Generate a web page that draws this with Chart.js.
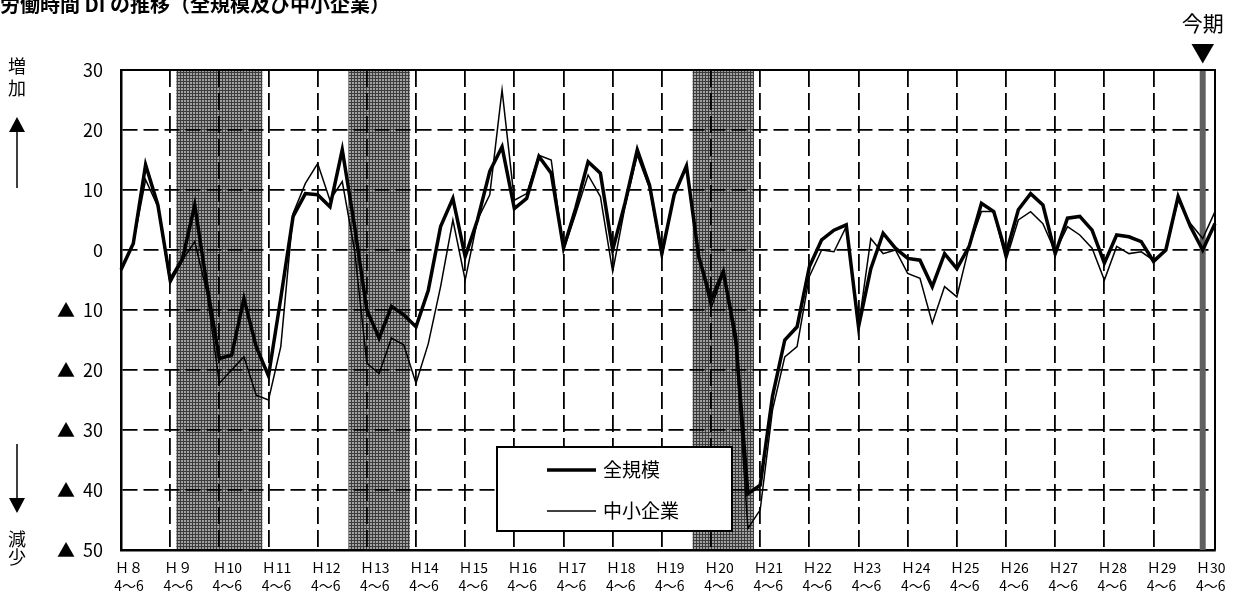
<!DOCTYPE html>
<html>
<head>
<meta charset="utf-8">
<script src="https://cdn.jsdelivr.net/npm/chart.js@4.4.1/dist/chart.umd.min.js"></script>
<style>
  html, body { margin: 0; padding: 0; background: #fff; }
  #wrap { width: 1235px; height: 597px; }
</style>
</head>
<body>
<div id="wrap"><canvas id="diChart"></canvas></div>
<script>
// 年（元号）と四半期のラベル
const yearLabels = ['Ｈ８', 'Ｈ９', 'Ｈ10', 'Ｈ11', 'Ｈ12', 'Ｈ13', 'Ｈ14', 'Ｈ15', 'Ｈ16', 'Ｈ17', 'Ｈ18', 'Ｈ19',
  'Ｈ20', 'Ｈ21', 'Ｈ22', 'Ｈ23', 'Ｈ24', 'Ｈ25', 'Ｈ26', 'Ｈ27', 'Ｈ28', 'Ｈ29', 'Ｈ30'];
const quarterLabels = ['4～6', '7～9', '10～12', '1～3'];

// 全規模（H8 4～6 から H30 7～9 まで）
const allSizes = [
  -3.3, 1.1, 14.2, 7.5, -5.0, -1.5, 7.5, -6.0, -18.1, -17.5, -8.1, -16.1,
  -21.0, -8.0, 5.6, 9.4, 9.2, 7.2, 16.7, 4.0, -10.0, -14.7, -9.4, -10.8,
  -12.8, -6.7, 3.9, 8.6, -1.1, 5.0, 13.1, 17.2, 6.9, 8.6, 15.6, 12.8,
  0.3, 7.0, 14.7, 12.8, 0.0, 7.8, 16.7, 10.8, -0.6, 9.2, 14.0, -1.1,
  -8.3, -3.6, -14.4, -40.6, -39.2, -24.4, -15.0, -12.8, -2.8, 1.7, 3.3, 4.2,
  -12.8, -3.1, 2.8, 0.3, -1.4, -1.7, -6.1, -0.6, -3.1, 0.6, 7.8, 6.4,
  -0.6, 6.7, 9.4, 7.5, -0.6, 5.3, 5.6, 3.3, -2.2, 2.5, 2.2, 1.4,
  -1.9, 0.0, 8.9, 3.9, 0.0, 4.4
];

// 中小企業
const smallFirms = [
  -3.3, 1.1, 11.7, 7.2, -5.6, -1.7, 1.4, -7.2, -22.2, -20.0, -17.8, -24.2,
  -25.0, -16.1, 6.1, 11.1, 14.4, 8.3, 11.4, 0.0, -18.9, -20.6, -14.7, -15.8,
  -22.2, -15.6, -6.1, 5.0, -5.0, 5.0, 9.2, 26.7, 8.3, 9.4, 15.8, 15.0,
  0.0, 6.1, 12.5, 8.9, -3.6, 7.2, 15.8, 10.3, -1.1, 9.4, 13.9, -1.1,
  -9.7, -3.9, -16.0, -46.4, -43.3, -26.7, -17.8, -16.1, -4.4, 0.0, -0.3, 3.9,
  -12.8, 1.9, -0.6, 0.0, -3.9, -4.7, -12.2, -6.1, -7.8, 0.6, 6.4, 6.4,
  -1.7, 5.0, 6.4, 4.4, -0.3, 3.9, 2.5, 0.3, -5.0, 0.6, -0.6, -0.3,
  -1.7, 0.0, 8.3, 4.4, 1.9, 6.4
];

// 景気後退期（網掛け）の開始・終了の期、今期
const shadeFrom = [5, 19, 47];
const shadeTo = [11, 23, 51];
const currentIndex = 88;

// カテゴリ: 各四半期
const categories = [];
for (let i = 0; i < allSizes.length; i++) {
  const q = i % 4;
  const y = Math.floor(i / 4) + (q === 3 ? 1 : 0);
  categories.push(yearLabels[y] + ' ' + quarterLabels[q]);
}

function makePattern(ctx) {
  const c = document.createElement('canvas');
  c.width = 3; c.height = 3;
  const p = c.getContext('2d');
  p.fillStyle = '#a2a2a2';
  p.fillRect(0, 0, 3, 3);
  p.fillStyle = '#3c3c3c';
  p.fillRect(0, 0, 3, 1);
  p.fillRect(0, 0, 1, 3);
  return ctx.createPattern(c, 'repeat');
}

const decor = {
  id: 'decor',
  beforeDraw(chart) {
    const { ctx, chartArea: a, scales: { x } } = chart;
    ctx.save();
    ctx.fillStyle = makePattern(ctx);
    shadeFrom.forEach((f, k) => {
      const x1 = x.getPixelForValue(f - 0.5);
      const x2 = x.getPixelForValue(shadeTo[k] + 0.5);
      ctx.fillRect(x1, a.top, x2 - x1, a.bottom - a.top);
    });
    ctx.restore();
  },
  beforeDatasetsDraw(chart) {
    const { ctx, chartArea: a, scales: { x } } = chart;
    const cx = x.getPixelForValue(currentIndex);
    ctx.save();
    ctx.fillStyle = '#606060';
    ctx.fillRect(cx - 3, a.top, 6, a.bottom - a.top);
    ctx.restore();
  },
  afterDatasetsDraw(chart) {
    const { ctx, chartArea: a } = chart;
    ctx.save();
    // 枠（上・右）
    ctx.strokeStyle = '#000';
    ctx.lineWidth = 2;
    ctx.beginPath();
    ctx.moveTo(a.left, a.top);
    ctx.lineTo(a.right, a.top);
    ctx.lineTo(a.right, a.bottom);
    ctx.stroke();

    // 凡例
    const lx = 497, ly = 447, lw = 235, lh = 84;
    ctx.fillStyle = '#fff';
    ctx.fillRect(lx, ly, lw, lh);
    ctx.lineWidth = 2;
    ctx.strokeRect(lx, ly, lw, lh);
    ctx.font = '19px "Noto Sans CJK JP"';
    ctx.textBaseline = 'middle';
    ctx.fillStyle = '#000';
    chart.data.datasets.forEach((ds, k) => {
      const yy = ly + 23 + k * 41;
      ctx.lineWidth = ds.borderWidth;
      ctx.beginPath();
      ctx.moveTo(lx + 50, yy);
      ctx.lineTo(lx + 99, yy);
      ctx.stroke();
      ctx.fillText(ds.label, lx + 106, yy);
    });
    ctx.restore();
  },
  afterDraw(chart) {
    const { ctx, scales: { x } } = chart;
    ctx.save();
    ctx.fillStyle = '#000';
    ctx.strokeStyle = '#000';
    ctx.textBaseline = 'alphabetic';
    ctx.textAlign = 'left';
    ctx.font = 'bold 20px "Noto Sans CJK JP"';
    ctx.fillText('労働時間 DI の推移（全規模及び中小企業）', 0, 12);

    const cx = x.getPixelForValue(currentIndex);
    ctx.textAlign = 'center';
    ctx.font = '21px "Noto Sans CJK JP"';
    ctx.fillText('今期', cx, 31);
    ctx.font = '24px "Noto Sans CJK JP"';
    ctx.textBaseline = 'middle';
    ctx.fillText('▼', cx, 53);

    // 増加・減少
    ctx.font = '18px "Noto Sans CJK JP"';
    ctx.fillText('増', 17, 66);
    ctx.fillText('加', 17, 88);
    ctx.fillText('減', 17, 539);
    ctx.fillText('少', 17, 557);

    ctx.lineWidth = 1.5;
    ctx.beginPath();
    ctx.moveTo(17, 130); ctx.lineTo(17, 188);
    ctx.moveTo(17, 444); ctx.lineTo(17, 500);
    ctx.stroke();
    ctx.beginPath();
    ctx.moveTo(17, 117); ctx.lineTo(9, 132); ctx.lineTo(25, 132); ctx.closePath();
    ctx.moveTo(17, 513); ctx.lineTo(9, 498); ctx.lineTo(25, 498); ctx.closePath();
    ctx.fill();
    ctx.restore();
  }
};

const ctx = document.getElementById('diChart').getContext('2d');

new Chart(ctx, {
  type: 'line',
  data: {
    labels: categories,
    datasets: [
      { label: '全規模', data: allSizes, borderColor: '#000', borderWidth: 3.5, pointRadius: 0, tension: 0, fill: false },
      { label: '中小企業', data: smallFirms, borderColor: '#000', borderWidth: 1.5, pointRadius: 0, tension: 0, fill: false }
    ]
  },
  options: {
    responsive: true,
    maintainAspectRatio: false,
    animation: false,
    devicePixelRatio: 1,
    layout: { padding: { top: 70, right: 20, left: 0, bottom: 0 } },
    plugins: {
      legend: { display: false },
      title: { display: false },
      tooltip: { enabled: false }
    },
    scales: {
      x: {
        type: 'category',
        offset: false,
        afterBuildTicks: s => { s.ticks = s.ticks.filter(t => t.value % 4 === 0); },
        afterFit: s => { s.height = 47; },
        grid: {
          color: c => (c.tick && c.tick.value === 0) ? 'rgba(0,0,0,0)' : '#000',
          lineWidth: 1.8,
          drawTicks: false
        },
        border: { display: true, color: '#000', width: 2.5, dash: [17, 6] },
        ticks: {
          autoSkip: false,
          maxRotation: 0,
          labelOffset: 8,
          padding: 9,
          color: '#000',
          font: { family: '"Noto Sans CJK JP"', size: 14, lineHeight: '18px' },
          callback: v => [yearLabels[v / 4], quarterLabels[0]]
        }
      },
      y: {
        min: -50,
        max: 30,
        afterFit: s => { s.width = 121; },
        grid: {
          color: c => (c.tick && (c.tick.value === 30 || c.tick.value === -50)) ? 'rgba(0,0,0,0)' : '#000',
          lineWidth: 1.8,
          drawTicks: false
        },
        border: { display: true, color: '#000', width: 2.5, dash: [15, 6] },
        ticks: {
          stepSize: 10,
          padding: 18,
          color: '#000',
          font: { family: '"Noto Sans CJK JP"', size: 18 },
          callback: v => v < 0 ? '▲  ' + (-v) : String(v)
        }
      }
    }
  },
  plugins: [decor]
});
</script>
</body>
</html>
